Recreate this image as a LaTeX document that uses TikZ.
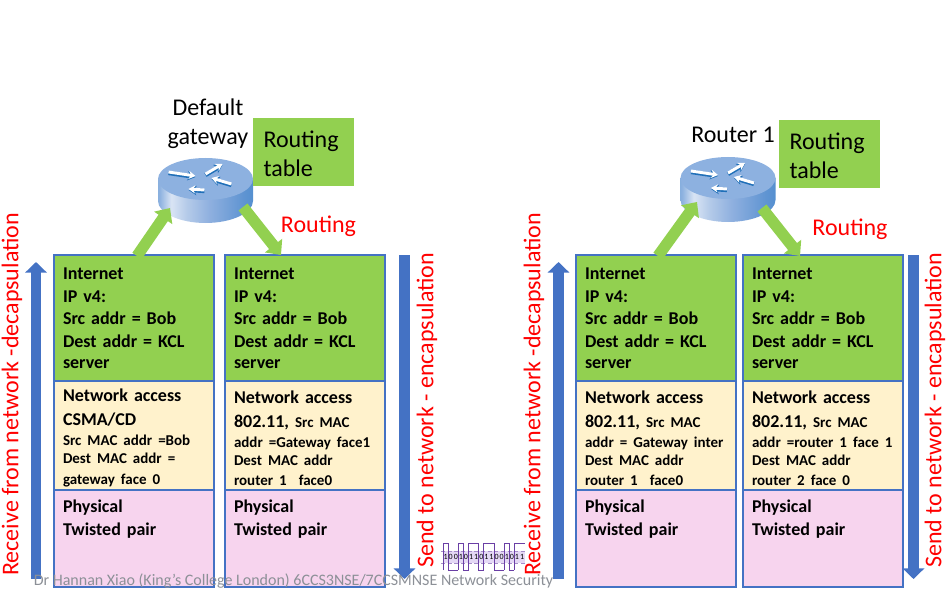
\documentclass[tikz,border=0pt]{standalone}
\usepackage{fontspec}
\setmainfont{Carlito}
\usetikzlibrary{positioning,arrows.meta}
\definecolor{boxblue}{HTML}{4472C4}
\definecolor{boxgreen}{HTML}{92D050}
\definecolor{boxyellow}{HTML}{FFF2CC}
\definecolor{boxpink}{HTML}{F7D4EE}
\definecolor{footgrey}{HTML}{8C9097}
\definecolor{wavepurple}{HTML}{6A3FA5}
\definecolor{wavefill}{HTML}{E4D8F5}
\definecolor{routertop}{HTML}{8DB1E0}
\definecolor{routeredge}{HTML}{1F6FB8}
\definecolor{bodya}{HTML}{2F7FC4}
\definecolor{bodyb}{HTML}{5B97D3}
\definecolor{bodyc}{HTML}{8FB3E0}
\definecolor{bodyd}{HTML}{D9E4F4}
\definecolor{bodye}{HTML}{B5CBE9}
\definecolor{bodyf}{HTML}{8FB0DF}
\definecolor{bodyg}{HTML}{5F94D2}
\definecolor{bodyh}{HTML}{3E86CB}
\definecolor{bodyi}{HTML}{0B70BC}
\pgfdeclarehorizontalshading{routerbody}{100bp}{
	color(0bp)=(bodya); color(18bp)=(bodyb); color(26bp)=(bodyc);
	color(32bp)=(bodyd); color(40bp)=(bodye); color(52bp)=(bodyf);
	color(70bp)=(bodyg); color(86bp)=(bodyh); color(100bp)=(bodyi)}
\newcommand{\smalltxt}{\fontsize{11.25}{15}\selectfont}
\begin{document}
\begin{tikzpicture}[
				x=0.75pt, y=-0.75pt,
				stackbox/.style={rectangle, draw=boxblue, line width=2.2pt, minimum width=120pt, text width=106.5pt, outer sep=0pt, inner xsep=6.75pt, inner ysep=0pt, align=left, font=\fontsize{13.5}{15}\selectfont\bfseries},
				ipbox/.style={stackbox, fill=boxgreen, minimum height=94.5pt},
				macbox/.style={stackbox, fill=boxyellow, minimum height=81.75pt, execute at begin node=\rule{0pt}{13.5pt}},
				phybox/.style={stackbox, fill=boxpink, minimum height=72.75pt},
				tablebox/.style={rectangle, fill=boxgreen, minimum width=75.75pt, minimum height=51pt, text width=60pt, inner xsep=7.5pt, align=left, font=\fontsize{18}{21.75}\selectfont, execute at begin node=\rule{0pt}{15pt}},
				title/.style={align=center, inner sep=0pt, font=\fontsize{18}{21.75}\selectfont},
				redlabel/.style={red, inner sep=0pt, font=\fontsize{18}{20}\selectfont},
				sidelabel/.style={redlabel, rotate=90, anchor=west},
				greenarrow/.style={-{Triangle[length=9pt,width=16pt]}, line width=8.5pt, boxgreen},
				bluearrow/.style={-{Triangle[length=8pt,width=16pt]}, line width=8pt, boxblue},
				router/.pic={
					\shade[shading=routerbody] (-47.5,0) -- (-47.5,22) .. controls (-47.5,34) and (-26,44) .. (0,44) .. controls (26,44) and (47.5,34) .. (47.5,22) -- (47.5,0) -- cycle;
					\fill[routertop] (0,0) ellipse [x radius=47.5, y radius=21];
				}
				]
				\useasboundingbox (0,0) rectangle (948,595);
				% stacks
				\node[ipbox, anchor=north] (gwin_ip) at (134,255) {Internet\\[2pt]IP v4:\\[2pt]Src addr = Bob\\[2pt]Dest addr = KCL\\[0.5pt]server};
				\node[macbox, below=0pt of gwin_ip] (gwin_mac) {Network access\\[3pt]CSMA/CD\\[0pt]{\smalltxt Src MAC addr =Bob}\\[-1.5pt]{\smalltxt Dest MAC addr =}\\[0.5pt]{\smalltxt gateway face 0}};
				\node[phybox, below=0pt of gwin_mac] (gwin_phy) {Physical\\[2pt]Twisted pair\\[16pt]~};

				\node[ipbox, right=8.25pt of gwin_ip] (gwout_ip) {Internet\\[2pt]IP v4:\\[2pt]Src addr = Bob\\[2pt]Dest addr = KCL\\[0.5pt]server};
				\node[macbox, below=0pt of gwout_ip] (gwout_mac) {Network access\\[3pt]802.11, {\smalltxt Src MAC}\\[0pt]{\smalltxt addr =Gateway face1}\\[-1.5pt]{\smalltxt Dest MAC addr}\\[0.5pt]{\smalltxt router 1\ \ face0}};
				\node[phybox, below=0pt of gwout_mac] (gwout_phy) {Physical\\[2pt]Twisted pair\\[16pt]~};

				\node[ipbox, anchor=north] (rin_ip) at (656,255) {Internet\\[2pt]IP v4:\\[2pt]Src addr = Bob\\[2pt]Dest addr = KCL\\[0.5pt]server};
				\node[macbox, below=0pt of rin_ip] (rin_mac) {Network access\\[3pt]802.11, {\smalltxt Src MAC}\\[0pt]{\smalltxt addr = Gateway inter}\\[-1.5pt]{\smalltxt Dest MAC addr}\\[0.5pt]{\smalltxt router 1\ \ face0}};
				\node[phybox, below=0pt of rin_mac] (rin_phy) {Physical\\[2pt]Twisted pair\\[16pt]~};

				\node[ipbox, right=5.25pt of rin_ip] (rout_ip) {Internet\\[2pt]IP v4:\\[2pt]Src addr = Bob\\[2pt]Dest addr = KCL\\[0.5pt]server};
				\node[macbox, below=0pt of rout_ip] (rout_mac) {Network access\\[3pt]802.11, {\smalltxt Src MAC}\\[0pt]{\smalltxt addr =router 1 face 1}\\[-1.5pt]{\smalltxt Dest MAC addr}\\[0.5pt]{\smalltxt router 2 face 0}};
				\node[phybox, below=0pt of rout_mac] (rout_phy) {Physical\\[2pt]Twisted pair\\[16pt]~};

				% routers
				\pic (gw) at (205.5,179) {router};
				\pic (rone) at (728,178) {router};
				\foreach \cx/\cy in {205.5/179, 728/178} {
					\begin{scope}[shift={(\cx,\cy)}]
						\foreach \ax/\ay/\bx/\by in {-37/-7/-10/-3, 0/-5/17/-15, 26/5/6/-1, -1/11/-17/10} {
							\draw[-{Stealth[length=6pt,width=7pt]}, line width=3.2pt, routeredge] (\ax,\ay+1) -- (\bx,\by+1);
							\draw[-{Stealth[length=5pt,width=6pt]}, line width=2.2pt, white] (\ax,\ay) -- (\bx,\by);
						}
					\end{scope}
				}

				\node[title] (gwtitle) at (208,124) {Default\\gateway};
				\node[title] (ronetitle) at (733,135) {Router 1};
				\node[tablebox] (gwtable) at (303.5,152) {Routing\\table};
				\node[tablebox] (ronetable) at (829.5,154) {Routing\\table};
				\node[redlabel] (gwrouting) at (318.5,226) {Routing};
				\node[redlabel] (ronerouting) at (850,229) {Routing};

				% routing arrows
				\coordinate (gwa) at (137,256);
				\coordinate (gwb) at (170,208);
				\coordinate (gwc) at (243,207);
				\coordinate (gwd) at (281,255);
				\coordinate (ra) at (658,256);
				\coordinate (rb) at (697,202);
				\coordinate (rc) at (762,208);
				\coordinate (rd) at (800,256);
				\draw[greenarrow] (gwa) -- (gwb);
				\draw[greenarrow] (gwc) -- (gwd);
				\draw[greenarrow] (ra) -- (rb);
				\draw[greenarrow] (rc) -- (rd);

				% up and down arrows
				\coordinate (upa) at (36,579);
				\coordinate (upb) at (36,262);
				\coordinate (downa) at (404.5,255);
				\coordinate (downb) at (404.5,579);
				\coordinate (upc) at (558.5,579);
				\coordinate (upd) at (558.5,262);
				\coordinate (downc) at (913.5,255);
				\coordinate (downd) at (913.5,579);
				\draw[bluearrow] (upa) -- (upb);
				\draw[bluearrow] (downa) -- (downb);
				\draw[bluearrow] (upc) -- (upd);
				\draw[bluearrow] (downc) -- (downd);

				% bit signal between the stacks
				\fill[wavefill] (443,551) rectangle (525,563);
				\draw[wavepurple!60, densely dashed, line width=0.3pt] (441,551) -- (526,551) (441,563) -- (526,563);
				\foreach \b [count=\i from 0, remember=\b as \prev (initially 0)] in {1,0,0,1,0,1,1,0,1,1,0,0,1,0,1,1} {
					\pgfmathsetmacro{\xa}{443+5.1*\i}
					\pgfmathsetmacro{\ya}{570-27*\prev}
					\pgfmathsetmacro{\yb}{570-27*\b}
					\draw[wavepurple, line width=0.7pt] (\xa,\ya) -- (\xa,\yb) -- (\xa+5.1,\yb);
					\node[inner sep=0pt, font=\fontsize{6}{6}\selectfont] (bit\i) at (\xa+2.6,557) {\b};
				}

				% side labels
				\node[sidelabel] (recvone) at (12,576) {Receive from network -decapsulation};
				\node[sidelabel] (sendone) at (427,568) {Send to network - encapsulation};
				\node[sidelabel] (recvtwo) at (534,576) {Receive from network -decapsulation};
				\node[sidelabel] (sendtwo) at (935,568) {Send to network - encapsulation};

				\node[footgrey, inner sep=0pt, font=\fontsize{12}{13}\selectfont] (footer) at (293.5,581) {Dr Hannan Xiao (King's College London) 6CCS3NSE/7CCSMNSE Network Security};
			\end{tikzpicture}
\end{document}
